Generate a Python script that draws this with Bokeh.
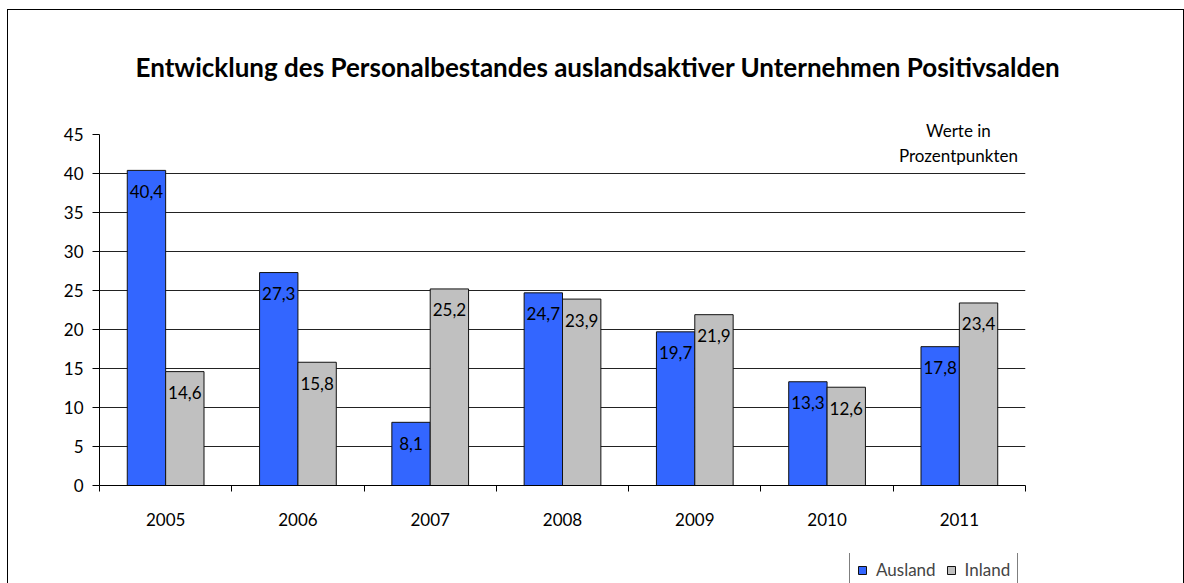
import numpy as np
from bokeh.plotting import figure
from bokeh.layouts import column
from bokeh.models import (ColumnDataSource, FixedTicker, Label, Legend, LegendItem,
                          Range1d, LinearAxis, Grid, Title)
from bokeh.core.properties import value
from bokeh.embed import file_html
from bokeh.resources import INLINE

years = ["2005", "2006", "2007", "2008", "2009", "2010", "2011"]
ausland = [40.4, 27.3, 8.1, 24.7, 19.7, 13.3, 17.8]
inland = [14.6, 15.8, 25.2, 23.9, 21.9, 12.6, 23.4]
series_names = ["Ausland", "Inland"]
title_text = "Entwicklung des Personalbestandes auslandsaktiver Unternehmen Positivsalden"
note_lines = ["Werte in", "Prozentpunkten"]
y_ticks = [0, 5, 10, 15, 20, 25, 30, 35, 40, 45]

FONT = "Lato"
FS = "17px"
BLUE = "#3366FF"
GRAY = "#C0C0C0"
COLORS = [BLUE, GRAY]

idx = np.arange(len(years)) + 0.5
fmt = lambda v: f"{v:.1f}".replace(".", ",")

src_a = ColumnDataSource(dict(x=idx - 0.145, top=ausland, lab=[fmt(v) for v in ausland]))
src_i = ColumnDataSource(dict(x=idx + 0.145, top=inland, lab=[fmt(v) for v in inland]))

ymax = y_ticks[-1]
y_end = ymax * (485 - 110) / (485 - 134)   # room above the 45 tick for the note

p = figure(width=1175, height=543, output_backend="svg", toolbar_location=None,
           x_range=Range1d(0, len(years)), y_range=Range1d(0, y_end),
           min_border_left=91, min_border_right=158, min_border_top=100,
           min_border_bottom=68, x_axis_type=None, y_axis_type=None)
p.outline_line_color = None
p.background_fill_color = "white"
p.border_fill_color = "white"

# y axis
yaxis = LinearAxis(ticker=FixedTicker(ticks=y_ticks), bounds=(0, ymax))
yaxis.axis_line_color = "black"
yaxis.major_tick_line_color = "black"
yaxis.major_tick_out = 7
yaxis.major_tick_in = 0
yaxis.minor_tick_line_color = None
yaxis.major_label_text_font = FONT
yaxis.major_label_text_font_size = FS
yaxis.major_label_text_color = "black"
yaxis.major_label_standoff = 9
p.add_layout(yaxis, "left")

# x axis: labels at category centres, ticks at category boundaries
xaxis = LinearAxis(ticker=FixedTicker(ticks=list(idx), minor_ticks=list(range(len(years) + 1))))
xaxis.major_label_overrides = {float(v): y for v, y in zip(idx, years)}
xaxis.axis_line_color = "black"
xaxis.major_tick_line_color = None
xaxis.major_tick_out = 0
xaxis.major_tick_in = 0
xaxis.minor_tick_line_color = "black"
xaxis.minor_tick_out = 6
xaxis.minor_tick_in = 0
xaxis.major_label_text_font = FONT
xaxis.major_label_text_font_size = FS
xaxis.major_label_text_color = "black"
xaxis.major_label_standoff = 21
p.add_layout(xaxis, "below")

grid = Grid(dimension=1, ticker=FixedTicker(ticks=[t for t in y_ticks if 0 < t < ymax]))
grid.grid_line_color = "#222222"
grid.grid_line_width = 1
p.add_layout(grid)

ra = p.vbar(x="x", top="top", width=0.29, source=src_a, fill_color=BLUE,
            line_color="#111111", line_width=1)
ri = p.vbar(x="x", top="top", width=0.29, source=src_i, fill_color=GRAY,
            line_color="#111111", line_width=1)

for s in (src_a, src_i):
    p.text(x="x", y="top", text="lab", source=s, text_align="center",
           text_baseline="alphabetic", y_offset=21, text_font=value(FONT),
           text_font_size=FS, text_color="black")

title = Title(text=title_text, align="left", offset=36, standoff=55,
              text_font=FONT, text_font_size="26px", text_font_style="bold",
              text_color="black")
p.add_layout(title, "above")

note_x = 6.493
p.add_layout(Label(x=note_x, y=45.5, text=note_lines[0], text_align="center",
                   text_baseline="alphabetic", text_font=FONT, text_font_size=FS,
                   text_color="black"))
p.add_layout(Label(x=note_x, y=42.3, text=note_lines[1], text_align="center",
                   text_baseline="alphabetic", text_font=FONT, text_font_size=FS,
                   text_color="black"))

# legend strip below the chart (its frame lines up with the chart's frame)
lg = figure(width=1175, height=30, output_backend="svg", toolbar_location=None,
            x_range=Range1d(0, 1), y_range=Range1d(0, 1), min_border=0,
            x_axis_type=None, y_axis_type=None)
lg.outline_line_color = None
lg.grid.visible = False
lg.background_fill_color = "white"
lg.border_fill_color = "white"
items = []
for name, col in zip(series_names, COLORS):
    # swatch-only renderer, lying below the visible range of the strip
    r = lg.vbar(x=[0.5], bottom=[-3], top=[-2], width=0.1, fill_color=col,
                line_color="#111111", line_width=1)
    items.append(LegendItem(label=name, renderers=[r]))

legend = Legend(items=items, orientation="horizontal", location=(750, -5))
legend.glyph_width = 10
legend.glyph_height = 10
legend.label_height = 20
legend.label_standoff = 9
legend.spacing = 10
legend.padding = 7
legend.margin = 0
legend.label_text_font = FONT
legend.label_text_font_size = FS
legend.border_line_color = "black"
legend.border_line_width = 1
legend.background_fill_color = "white"
legend.background_fill_alpha = 1
lg.add_layout(legend, "center")

layout = column(p, lg, spacing=0)
layout.styles = {"margin-left": "7px", "margin-top": "9px",
                 "border-left": "1px solid black", "border-top": "1px solid black",
                 "border-right": "1px solid black"}

open("out.html", "w").write(file_html(layout, INLINE))
